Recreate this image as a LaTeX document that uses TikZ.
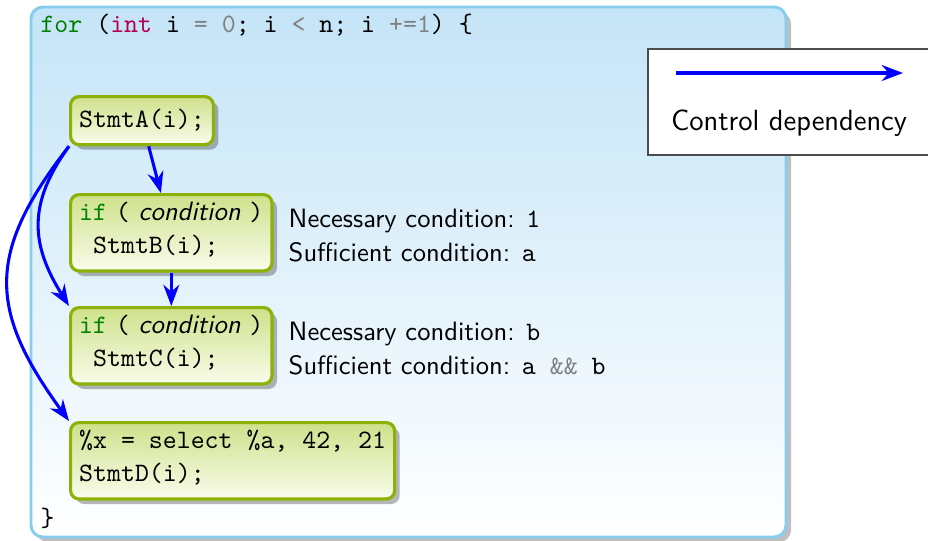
\documentclass[tikz,border=0pt]{standalone}
\usepackage{tikz}
\usetikzlibrary{arrows.meta,shadows,positioning}

\definecolor{loopblue}{RGB}{135,205,238}
\definecolor{looptop}{RGB}{196,228,247}
\definecolor{stmtgreen}{RGB}{140,178,10}
\definecolor{stmttop}{RGB}{206,225,138}
\definecolor{stmtbot}{RGB}{250,252,236}
\definecolor{kwgreen}{RGB}{0,128,0}
\definecolor{kwtype}{RGB}{180,0,80}
\definecolor{opgray}{RGB}{128,128,128}

\newcommand{\ifcond}{\textcolor{kwgreen}{if}\textsf{ }(\textsf{ \textsl{condition} })}

\tikzset{
  stmt/.style={draw=stmtgreen, line width=1.2pt, rounded corners=3.2pt,
    top color=stmttop, bottom color=stmtbot,
    drop shadow={shadow xshift=1.9pt, shadow yshift=-1.9pt, fill=black, opacity=0.28},
    font=\ttfamily\fontsize{10}{12.4}\selectfont, align=left,
    inner xsep=3.25pt, inner ysep=2.85pt, anchor=north west,
    execute at begin node=\strut, execute at end node=\strut},
  dep/.style={-{Stealth[length=8pt,width=6pt]}, blue, line width=1.15pt},
  note/.style={font=\sffamily\fontsize{10}{12.6}\selectfont, align=left, inner sep=0pt},
  code/.style={font=\ttfamily, inner sep=0pt, anchor=base west}
}

\begin{document}
\begin{tikzpicture}[x=0.3765pt, y=0.3765pt]
\useasboundingbox (0,0) rectangle (928,-540);
\clip (0,0) rectangle (928,-540);

% Loop frame
\path[draw=loopblue, line width=1.1pt, rounded corners=4.5pt, top color=looptop, bottom color=white,
  drop shadow={shadow xshift=1.9pt, shadow yshift=-1.9pt, fill=black, opacity=0.25}]
  (31,-7) rectangle (786,-537);

\node[code] (forline) at (40,-32) {\textcolor{kwgreen}{for} (\textcolor{kwtype}{int} i \textcolor{opgray}{= 0}; i \textcolor{opgray}{<} n; i \textcolor{opgray}{+=1}) \{};
\node[code] (close) at (40,-526) {\}};

% Statements
\node[stmt] (A) at (69,-95) {StmtA(i);};
\node[stmt] (B) at (69,-193) {\ifcond\\~StmtB(i);};
\node[stmt] (C) at (69,-306) {\ifcond\\~StmtC(i);};
\node[stmt] (D) at (69,-421) {\%x = select \%a, 42, 21\\StmtD(i);};

\node[note, right=5.5pt of B, yshift=-1pt] (Bnote) {Necessary condition: \texttt{1}\\Sufficient condition: \texttt{a}};
\node[note, right=5.5pt of C, yshift=-1pt] (Cnote) {Necessary condition: \texttt{b}\\Sufficient condition: \texttt{a \textcolor{opgray}{\&\&} b}};

% Control dependencies
\draw[dep] (A) -- (B);
\draw[dep] (B) -- (C);
\draw[dep] (A.south west) to[out=-126, in=122, looseness=1.15] (C.north west);
\draw[dep] (A.south west) to[out=-128, in=126, looseness=1.27] (D.north west);

% Legend
\draw[black!70, line width=0.5pt, fill=white] (648,-49) rectangle (930,-155);
\coordinate (legfrom) at (676,-73);
\coordinate (legto) at (903,-73);
\draw[dep] (legfrom) -- (legto);
\node[font=\sffamily\fontsize{11}{13}\selectfont, anchor=base, inner sep=0pt] (legtext) at (789,-130) {Control dependency};
\end{tikzpicture}
\end{document}
